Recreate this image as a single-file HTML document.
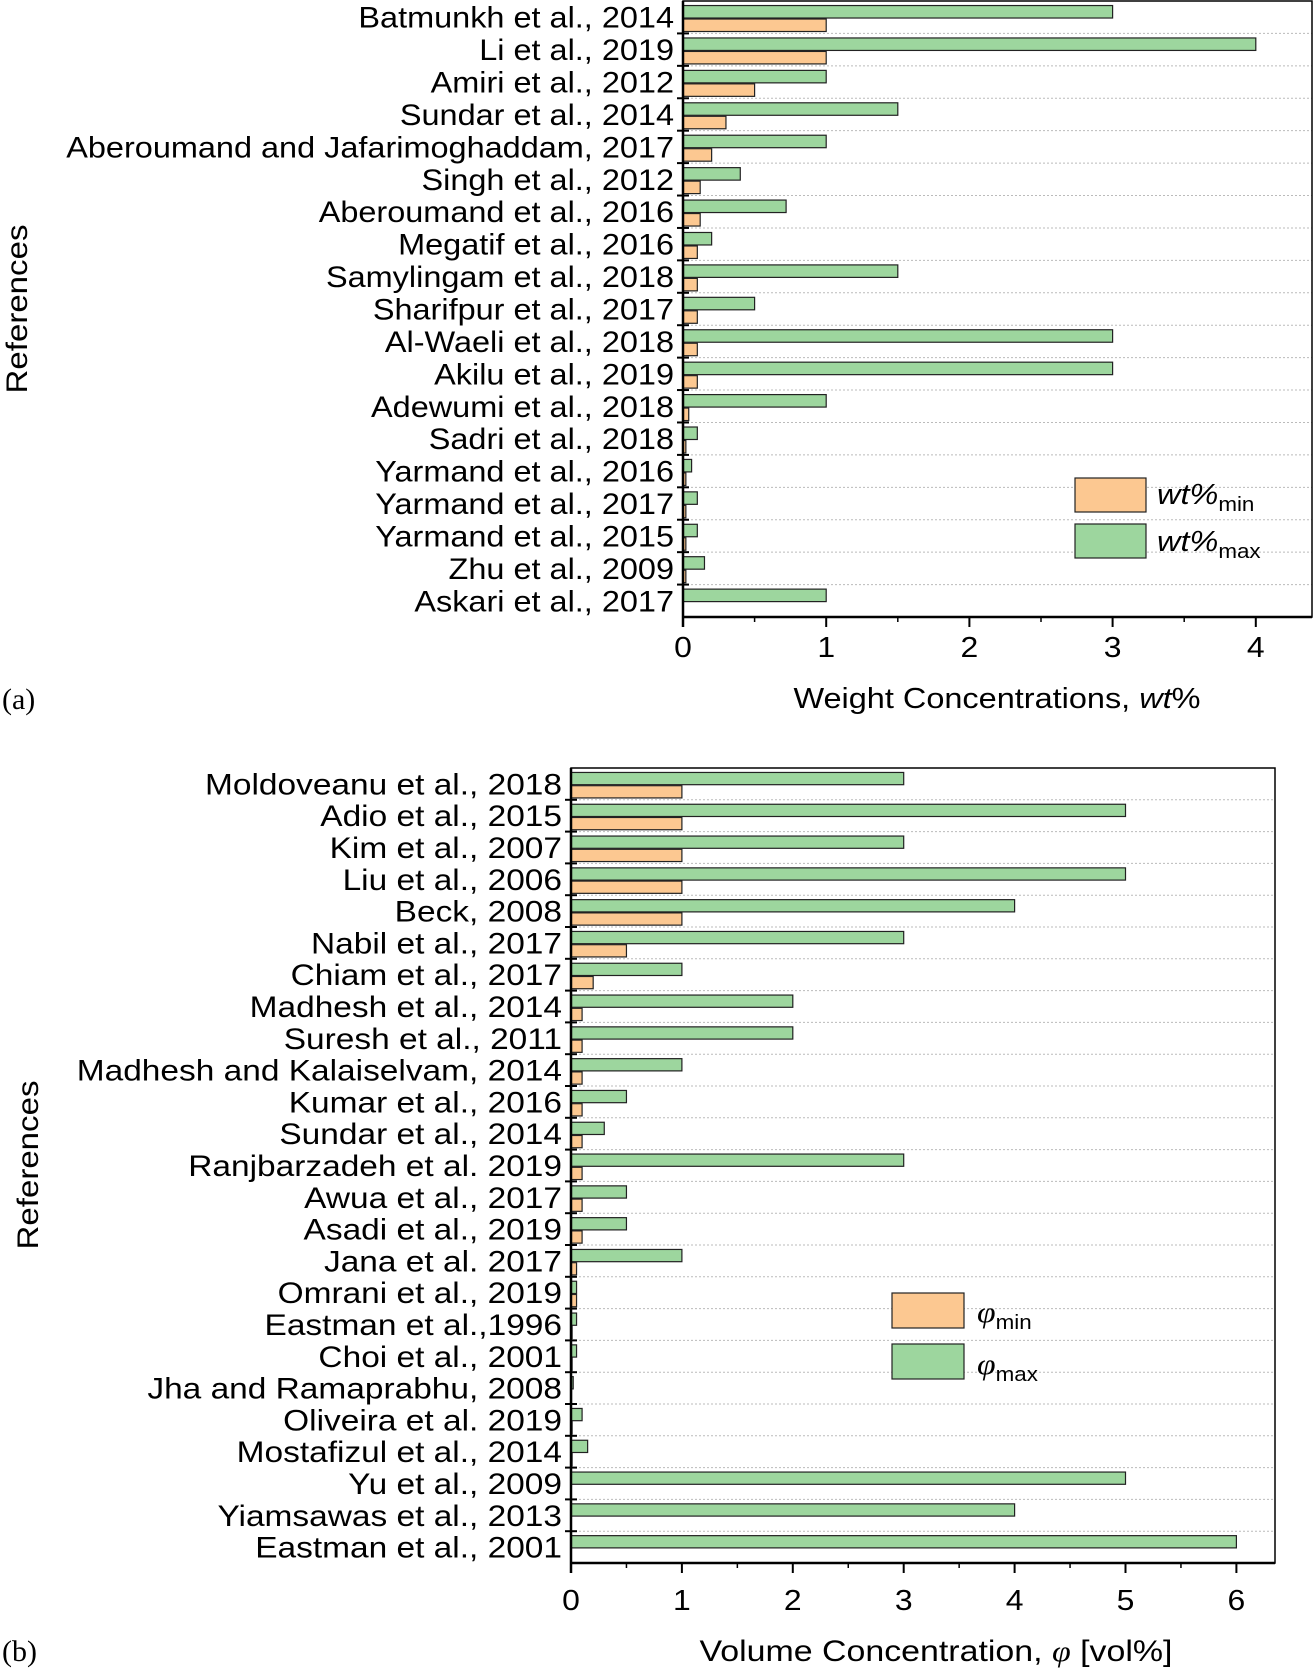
<!DOCTYPE html>
<html><head><meta charset="utf-8"><style>
html,body{margin:0;padding:0;background:#fff;}
svg{display:block;font-family:"Liberation Sans",sans-serif;}
</style></head><body>
<svg id="s" width="1314" height="1672" viewBox="0 0 1314 1672" xmlns="http://www.w3.org/2000/svg"></svg>
<script>
const catsA=["Batmunkh et al., 2014","Li et al., 2019","Amiri et al., 2012","Sundar et al., 2014","Aberoumand and Jafarimoghaddam, 2017","Singh et al., 2012","Aberoumand et al., 2016","Megatif et al., 2016","Samylingam et al., 2018","Sharifpur et al., 2017","Al-Waeli et al., 2018","Akilu et al., 2019","Adewumi et al., 2018","Sadri et al., 2018","Yarmand et al., 2016","Yarmand et al., 2017","Yarmand et al., 2015","Zhu et al., 2009","Askari et al., 2017"];
const maxA=[3,4,1,1.5,1,0.4,0.72,0.2,1.5,0.5,3,3,1,0.1,0.06,0.1,0.1,0.15,1];
const minA=[1,1,0.5,0.3,0.2,0.12,0.12,0.1,0.1,0.1,0.1,0.1,0.04,0.02,0.02,0.02,0.02,0.02,0];
const ticksA=[0,1,2,3,4];
const catsB=["Moldoveanu et al., 2018","Adio et al., 2015","Kim et al., 2007","Liu et al., 2006","Beck, 2008","Nabil et al., 2017","Chiam et al., 2017","Madhesh et al., 2014","Suresh et al., 2011","Madhesh and Kalaiselvam, 2014","Kumar et al., 2016","Sundar et al., 2014","Ranjbarzadeh et al. 2019","Awua et al., 2017","Asadi et al., 2019","Jana et al. 2017","Omrani et al., 2019","Eastman et al.,1996","Choi et al., 2001","Jha and Ramaprabhu, 2008","Oliveira et al. 2019","Mostafizul et al., 2014","Yu et al., 2009","Yiamsawas et al., 2013","Eastman et al., 2001"];
const maxB=[3,5,3,5,4,3,1,2,2,1,0.5,0.3,3,0.5,0.5,1,0.05,0.05,0.05,0.02,0.1,0.15,5,4,6];
const minB=[1,1,1,1,1,0.5,0.2,0.1,0.1,0.1,0.1,0.1,0.1,0.1,0.1,0.05,0.05,0.01,0.01,0.005,0.01,0.01,0,0,0];
const ticksB=[0,1,2,3,4,5,6];
const svg=document.getElementById('s');const NS="http://www.w3.org/2000/svg";
function mk(t,a,txt){const e=document.createElementNS(NS,t);for(const k in a)e.setAttribute(k,a[k]);if(txt!==undefined)e.textContent=txt;svg.appendChild(e);return e;}
function txt(x,y,html,attrs,rot,sx){const e=document.createElementNS(NS,'text');
 for(const k in attrs)e.setAttribute(k,attrs[k]);
 e.setAttribute('x',0);e.setAttribute('y',0);
 e.setAttribute('transform','translate('+x+','+y+')'+(rot?' rotate(-90)':'')+' scale('+(sx||1.12)+',1)');
 e.innerHTML=html;svg.appendChild(e);return e;}
function chart(p,cats,mx,mn,ticks,key){
 const x=v=>p.l+v*p.u;const rh=(p.b-p.t)/cats.length;const bh=rh*0.385;
 for(let i=1;i<cats.length;i++){const yy=p.t+i*rh;
  let g=mk('line',{x1:p.l,x2:p.r,y1:yy,y2:yy,stroke:'#bbb','stroke-width':1,'stroke-dasharray':'2,2'});
  
  let tk=mk('line',{x1:p.l-6,x2:p.l+6,y1:yy,y2:yy,stroke:'#000','stroke-width':2});
  }
 cats.forEach((c,i)=>{const y0=p.t+i*rh;
  let g=mk('rect',{x:x(0),y:y0+rh*0.14,width:Math.max(mx[i]*p.u,0.5),height:bh,fill:'#9dd69e',stroke:'#222','stroke-width':1.2});
  
  if(mn[i]>0){let o=mk('rect',{x:x(0),y:y0+rh*0.14+bh+1,width:Math.max(mn[i]*p.u,0.5),height:bh,fill:'#fcc891',stroke:'#222','stroke-width':1.2});
  }
  let t=txt(p.l-9,y0+rh/2+10.5,'',{'text-anchor':'end','font-size':p.fs},false,p.sx);t.textContent=c;
  });
 let fr=mk('rect',{x:p.l,y:p.t,width:p.r-p.l,height:p.b-p.t,fill:'none',stroke:'#000','stroke-width':1.5});
 
 let ax=mk('line',{x1:p.l,x2:p.l,y1:p.t,y2:p.b+10,stroke:'#000','stroke-width':2.5});
 
 let bx=mk('line',{x1:p.l,x2:p.r,y1:p.b,y2:p.b,stroke:'#000','stroke-width':2.5});
 
 ticks.forEach(v=>{let tk=mk('line',{x1:x(v),x2:x(v),y1:p.b,y2:p.b+10,stroke:'#000','stroke-width':2});
  
  if(x(v+0.5)<p.r){let m=mk('line',{x1:x(v+0.5),x2:x(v+0.5),y1:p.b,y2:p.b+5,stroke:'#000','stroke-width':1.5});
  }
  let t=txt(x(v),p.ty,'',{'text-anchor':'middle','font-size':28.5});t.textContent=String(v);
  });
}
chart({l:683,r:1312,t:1,b:617,u:143.2,ty:657,fs:29.5,sx:1.1},catsA,maxA,minA,ticksA,'a');
chart({l:571,r:1275,t:768,b:1563,u:110.9,ty:1610,fs:30,sx:1.115},catsB,maxB,minB,ticksB,'b');

let e;
e=txt(27,309,'References',{'text-anchor':'middle','font-size':29.5},true);


e=txt(38,1165,'References',{'text-anchor':'middle','font-size':29.5},true);


e=txt(997,708,'Weight Concentrations, <tspan font-style="italic">wt</tspan>%',{'text-anchor':'middle','font-size':29});


e=txt(936,1661,'Volume Concentration, <tspan font-style="italic" font-family="Liberation Serif">φ</tspan> [vol%]',{'text-anchor':'middle','font-size':29.5},false,1.15);


e=mk('text',{x:2,y:709,'font-size':30,'font-family':'Liberation Serif'},'(a)');


e=mk('text',{x:2,y:1661,'font-size':30,'font-family':'Liberation Serif'},'(b)');


e=txt(1157,504,'<tspan font-style="italic">wt%</tspan><tspan font-size="20" dy="7">min</tspan>',{'font-size':29});


e=txt(1157,551,'<tspan font-style="italic">wt%</tspan><tspan font-size="20" dy="7">max</tspan>',{'font-size':29});


e=txt(977,1322,'<tspan font-style="italic" font-family="Liberation Serif">φ</tspan><tspan font-size="20" dy="7">min</tspan>',{'font-size':30});


e=txt(977,1374,'<tspan font-style="italic" font-family="Liberation Serif">φ</tspan><tspan font-size="20" dy="7">max</tspan>',{'font-size':30});


e=mk('rect',{x:1075,y:478,width:71,height:34,fill:'#fcc891',stroke:'#222','stroke-width':1.2});


e=mk('rect',{x:1075,y:524,width:71,height:34,fill:'#9dd69e',stroke:'#222','stroke-width':1.2});


e=mk('rect',{x:892,y:1293,width:72,height:35,fill:'#fcc891',stroke:'#222','stroke-width':1.2});


e=mk('rect',{x:892,y:1344,width:72,height:35,fill:'#9dd69e',stroke:'#222','stroke-width':1.2});


</script>
</body></html>
